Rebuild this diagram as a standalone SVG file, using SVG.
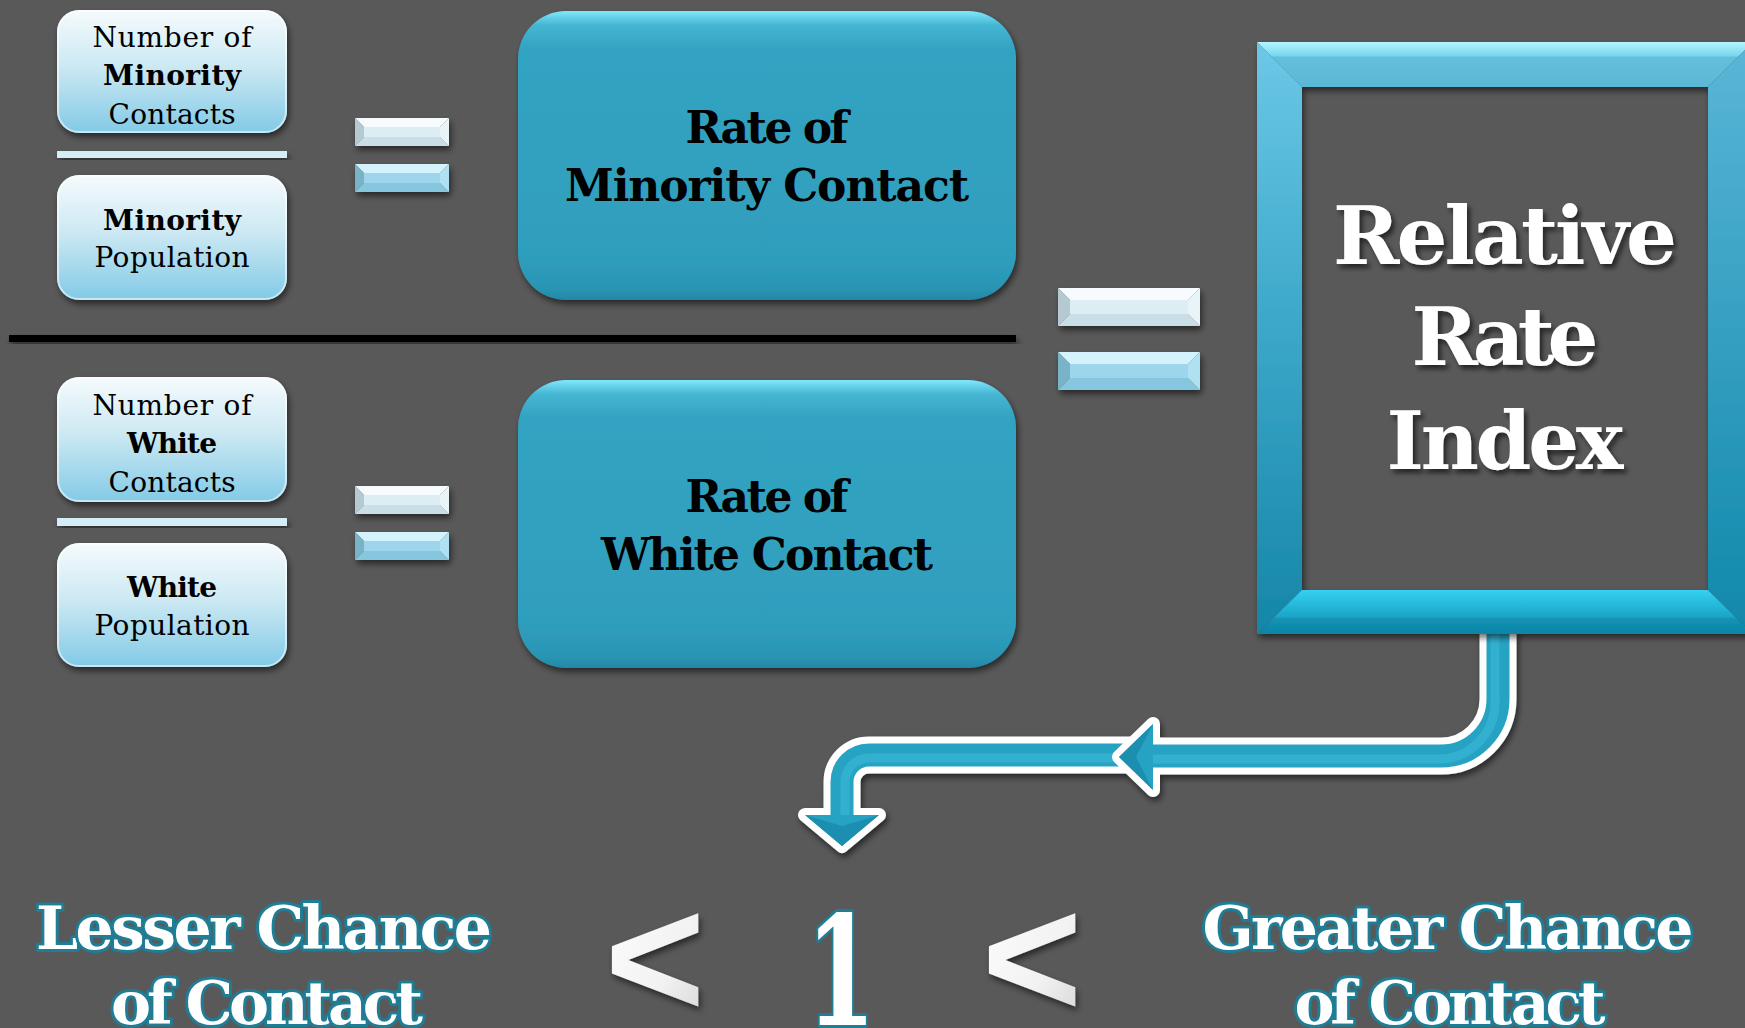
<svg xmlns="http://www.w3.org/2000/svg" width="1745" height="1028" viewBox="0 0 1745 1028">
<defs>
<style>
.st{font-family:"DejaVu Serif","Liberation Serif",serif;font-size:28px;fill:#000;text-anchor:middle}
.stb{font-weight:bold}
.sbox{fill:url(#gLight)}
.rim{fill:none;stroke:#fff;stroke-opacity:.55;stroke-width:2}
.sdiv{fill:#d4eef8}
.bbox{fill:url(#gTeal)}
.bt{font-family:"DejaVu Serif","Liberation Serif",serif;font-weight:bold;font-size:44px;fill:#000;text-anchor:middle}
.rt{font-family:"DejaVu Serif","Liberation Serif",serif;font-weight:bold;font-size:80px;fill:#fff;text-anchor:middle}
.ct{font-family:"DejaVu Serif","Liberation Serif",serif;font-weight:bold;font-size:60px;fill:#fff;stroke:#1f7d95;stroke-width:6;paint-order:stroke;stroke-linejoin:round;text-anchor:middle}
.one{font-family:"DejaVu Serif","Liberation Serif",serif;font-weight:bold;font-size:152px;fill:#fff;stroke:#1f7d95;stroke-width:6;paint-order:stroke;stroke-linejoin:round;text-anchor:middle}
.lt{font-family:"Liberation Sans",Arial,sans-serif;font-weight:bold;font-size:172px;fill:url(#gChev);text-anchor:middle}
.w-t{fill:#f7fbfd}.w-l{fill:#b4c9d2}.w-b{fill:#c9dee6}.w-r{fill:#e9f4f8}.w-f{fill:#dcedf3}
.b-t{fill:#d4f2fb}.b-l{fill:#78b3c8}.b-b{fill:#86c7df}.b-r{fill:#b0e1f2}.b-f{fill:#9dd6ec}
.ar-out{fill:none;stroke:#fff;stroke-width:37}
.ar-in{fill:none;stroke:#28a2c3;stroke-width:23}
.ar-hl{fill:none;stroke:#33b0d0;stroke-width:9}
.ah-out{fill:#fff;stroke:#fff;stroke-width:14;stroke-linejoin:round}
.ah-in{fill:#28a2c3}
.ah-sh{fill:#1f8fb0}
</style>
<linearGradient id="gLight" x1="0" y1="0" x2="0" y2="1">
<stop offset="0" stop-color="#f5fbfd"/>
<stop offset="0.45" stop-color="#cde9f3"/>
<stop offset="1" stop-color="#82cae6"/>
</linearGradient>
<linearGradient id="gTeal" x1="0" y1="0" x2="0" y2="1">
<stop offset="0" stop-color="#80e8fc"/>
<stop offset="0.05" stop-color="#45b5d2"/>
<stop offset="0.13" stop-color="#33a3c2"/>
<stop offset="0.85" stop-color="#2f9ebd"/>
<stop offset="0.96" stop-color="#2a95b3"/>
<stop offset="1" stop-color="#2388a6"/>
</linearGradient>
<linearGradient id="gChev" x1="0" y1="0" x2="1" y2="1">
<stop offset="0" stop-color="#ffffff"/>
<stop offset="0.6" stop-color="#f2f2f2"/>
<stop offset="1" stop-color="#cfcfcf"/>
</linearGradient>
<linearGradient id="fTop" x1="0" y1="42" x2="0" y2="87" gradientUnits="userSpaceOnUse">
<stop offset="0" stop-color="#b4f6ff"/>
<stop offset="0.3" stop-color="#7ad6ee"/>
<stop offset="0.34" stop-color="#63c0dd"/>
<stop offset="1" stop-color="#5bb7d6"/>
</linearGradient>
<linearGradient id="fLeft" x1="0" y1="42" x2="0" y2="634" gradientUnits="userSpaceOnUse">
<stop offset="0" stop-color="#6cc8e6"/>
<stop offset="0.5" stop-color="#3aa6c8"/>
<stop offset="1" stop-color="#1586a8"/>
</linearGradient>
<linearGradient id="fBot" x1="0" y1="590" x2="0" y2="634" gradientUnits="userSpaceOnUse">
<stop offset="0" stop-color="#35d0f2"/>
<stop offset="0.6" stop-color="#1ba6c8"/>
<stop offset="0.66" stop-color="#1391b3"/>
<stop offset="1" stop-color="#0e85a6"/>
</linearGradient>
<linearGradient id="fRight" x1="0" y1="42" x2="0" y2="634" gradientUnits="userSpaceOnUse">
<stop offset="0" stop-color="#5ab6d8"/>
<stop offset="1" stop-color="#1088aa"/>
</linearGradient>
<filter id="sh" x="-10%" y="-10%" width="125%" height="135%">
<feDropShadow dx="2" dy="4" stdDeviation="3" flood-color="#000" flood-opacity="0.55"/>
</filter>
<filter id="tsh" x="-10%" y="-10%" width="125%" height="140%">
<feDropShadow dx="3" dy="4" stdDeviation="2.5" flood-color="#000" flood-opacity="0.6"/>
</filter>
</defs>

<rect width="1745" height="1028" fill="#595959"/>

<g id="connectors" filter="url(#sh)">
<path class="ar-out" d="M 1140 755 H 869 A 27 27 0 0 0 842 782 V 818"/>
<polygon class="ah-out" points="805,815 879,815 842,846"/>
<path class="ar-in" d="M 1140 755 H 869 A 27 27 0 0 0 842 782 V 818"/>
<path class="ar-hl" d="M 1140 758 H 869 A 24 24 0 0 0 845 782 V 818"/>
<polygon class="ah-in" points="805,815 879,815 842,846"/>
<polygon class="ah-sh" points="805,815 842,826 879,815 842,846"/>
<path class="ar-out" d="M 1498 628 V 699 A 57 57 0 0 1 1441 756 H 1153"/>
<polygon class="ah-out" points="1119,757 1153,724 1153,790"/>
<path class="ar-in" d="M 1498 628 V 699 A 57 57 0 0 1 1441 756 H 1153"/>
<path class="ar-hl" d="M 1495 628 V 699 A 57 57 0 0 1 1441 759 H 1153"/>
<polygon class="ah-in" points="1119,757 1153,724 1153,790"/>
<polygon class="ah-sh" points="1119,757 1153,724 1136,757 1153,790"/>
</g>

<g id="minority-contacts">
<rect class="sbox" x="57" y="10" width="230" height="123" rx="22" filter="url(#sh)"/>
<rect class="rim" x="58" y="11" width="228" height="121" rx="21"/>
<text class="st" x="172" y="47" textLength="159">Number of</text>
<text class="st stb" x="172" y="85" textLength="138">Minority</text>
<text class="st" x="172" y="124" textLength="127">Contacts</text>
</g>
<rect id="minority-divider" class="sdiv" x="57" y="151" width="230" height="7" filter="url(#sh)"/>
<g id="minority-population">
<rect class="sbox" x="57" y="175" width="230" height="125" rx="22" filter="url(#sh)"/>
<rect class="rim" x="58" y="176" width="228" height="123" rx="21"/>
<text class="st stb" x="172" y="230" textLength="138">Minority</text>
<text class="st" x="172" y="267" textLength="155">Population</text>
</g>

<g id="white-contacts">
<rect class="sbox" x="57" y="377" width="230" height="125" rx="22" filter="url(#sh)"/>
<rect class="rim" x="58" y="378" width="228" height="123" rx="21"/>
<text class="st" x="172" y="415" textLength="159">Number of</text>
<text class="st stb" x="172" y="453" textLength="90">White</text>
<text class="st" x="172" y="492" textLength="127">Contacts</text>
</g>
<rect id="white-divider" class="sdiv" x="57" y="518" width="230" height="8" filter="url(#sh)"/>
<g id="white-population">
<rect class="sbox" x="57" y="543" width="230" height="124" rx="22" filter="url(#sh)"/>
<rect class="rim" x="58" y="544" width="228" height="122" rx="21"/>
<text class="st stb" x="172" y="597" textLength="90">White</text>
<text class="st" x="172" y="635" textLength="155">Population</text>
</g>

<g id="equals-minority" filter="url(#sh)">
<polygon class="w-t" points="355,118 449,118 440,127 364,127"/>
<polygon class="w-l" points="355,118 364,127 364,137 355,146"/>
<polygon class="w-b" points="355,146 364,137 440,137 449,146"/>
<polygon class="w-r" points="449,118 449,146 440,137 440,127"/>
<rect class="w-f" x="364" y="127" width="76" height="10"/>
<polygon class="b-t" points="355,164 449,164 440,173 364,173"/>
<polygon class="b-l" points="355,164 364,173 364,183 355,192"/>
<polygon class="b-b" points="355,192 364,183 440,183 449,192"/>
<polygon class="b-r" points="449,164 449,192 440,183 440,173"/>
<rect class="b-f" x="364" y="173" width="76" height="10"/>
</g>

<g id="equals-white" filter="url(#sh)">
<polygon class="w-t" points="355,486 449,486 440,495 364,495"/>
<polygon class="w-l" points="355,486 364,495 364,505 355,514"/>
<polygon class="w-b" points="355,514 364,505 440,505 449,514"/>
<polygon class="w-r" points="449,486 449,514 440,505 440,495"/>
<rect class="w-f" x="364" y="495" width="76" height="10"/>
<polygon class="b-t" points="355,532 449,532 440,541 364,541"/>
<polygon class="b-l" points="355,532 364,541 364,551 355,560"/>
<polygon class="b-b" points="355,560 364,551 440,551 449,560"/>
<polygon class="b-r" points="449,532 449,560 440,551 440,541"/>
<rect class="b-f" x="364" y="541" width="76" height="10"/>
</g>

<g id="rate-minority">
<rect class="bbox" x="518" y="11" width="498" height="289" rx="48" filter="url(#sh)"/>
<text class="bt" x="767" y="143" textLength="163">Rate of</text>
<text class="bt" x="767" y="201" textLength="404">Minority Contact</text>
</g>

<rect id="fraction-line" x="9" y="335" width="1007" height="7" fill="#000" filter="url(#sh)"/>

<g id="rate-white">
<rect class="bbox" x="518" y="380" width="498" height="288" rx="48" filter="url(#sh)"/>
<text class="bt" x="767" y="512" textLength="163">Rate of</text>
<text class="bt" x="767" y="570" textLength="332">White Contact</text>
</g>

<g id="equals-index" filter="url(#sh)">
<polygon class="w-t" points="1058,288 1200,288 1188,300 1070,300"/>
<polygon class="w-l" points="1058,288 1070,300 1070,314 1058,326"/>
<polygon class="w-b" points="1058,326 1070,314 1188,314 1200,326"/>
<polygon class="w-r" points="1200,288 1200,326 1188,314 1188,300"/>
<rect class="w-f" x="1070" y="300" width="118" height="14"/>
<polygon class="b-t" points="1058,352 1200,352 1188,364 1070,364"/>
<polygon class="b-l" points="1058,352 1070,364 1070,378 1058,390"/>
<polygon class="b-b" points="1058,390 1070,378 1188,378 1200,390"/>
<polygon class="b-r" points="1200,352 1200,390 1188,378 1188,364"/>
<rect class="b-f" x="1070" y="364" width="118" height="14"/>
</g>

<g id="relative-rate-index">
<g filter="url(#sh)">
<polygon fill="url(#fTop)" points="1257,42 1753,42 1708,87 1302,87"/>
<polygon fill="url(#fLeft)" points="1257,42 1302,87 1302,590 1257,634"/>
<polygon fill="url(#fBot)" points="1257,634 1302,590 1708,590 1753,634"/>
<polygon fill="url(#fRight)" points="1753,42 1753,634 1708,590 1708,87"/>
</g>
<g filter="url(#tsh)">
<text class="rt" x="1505" y="264" textLength="344">Relative</text>
<text class="rt" x="1505" y="365" textLength="187">Rate</text>
<text class="rt" x="1505" y="469" textLength="237">Index</text>
</g>
</g>

<g id="lesser">
<text class="ct" x="264" y="949" textLength="456">Lesser Chance</text>
<text class="ct" x="267" y="1024" textLength="312">of Contact</text>
</g>
<g id="scale">
<text class="lt" x="655" y="1017" filter="url(#sh)">&lt;</text>
<text class="one" transform="translate(841,1025) scale(0.66,1)" x="0" y="0">1</text>
<text class="lt" x="1032" y="1017" filter="url(#sh)">&lt;</text>
</g>
<g id="greater">
<text class="ct" x="1448" y="949" textLength="491">Greater Chance</text>
<text class="ct" x="1450" y="1024" textLength="311">of Contact</text>
</g>
</svg>
